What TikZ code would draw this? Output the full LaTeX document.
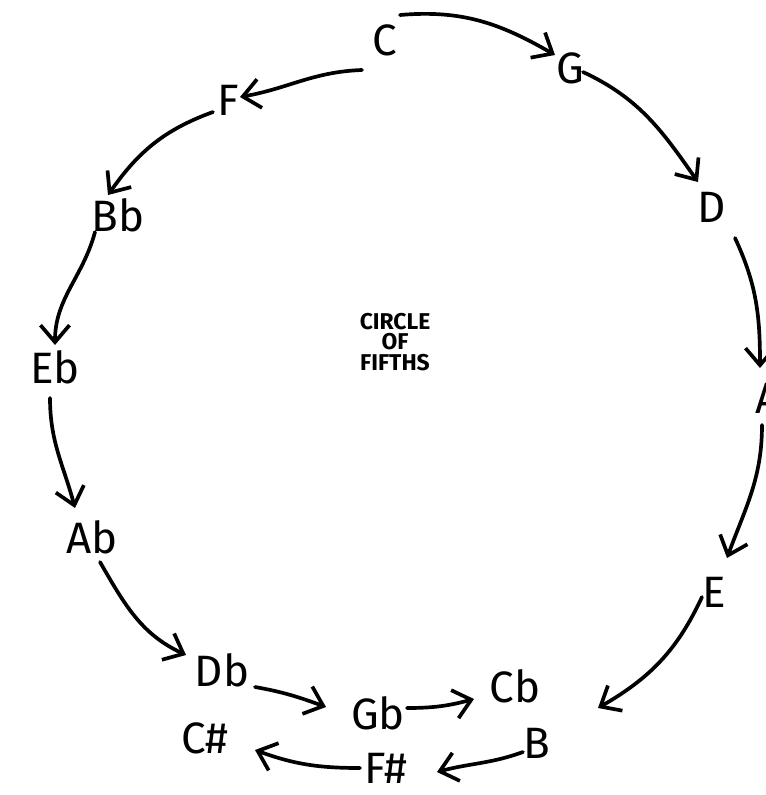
\documentclass[tikz,border=0pt]{standalone}
\usepackage{fontspec}
\setmainfont{Fira Sans}
\usetikzlibrary{arrows.meta}
\begin{document}
\begin{tikzpicture}[x=0.02cm,y=0.02cm,
  note/.style={font=\fontsize{25}{28}\selectfont, inner sep=0pt},
  arr/.style={line width=2.1pt, line cap=round, -{Straight Barb[length=3.4mm,width=5.8mm,line width=2.1pt]}}]
\useasboundingbox[fill=white] (0,0) rectangle (766,-795);
\node[note] (C)  at (385,-40) {C};
\node[note] (G)  at (570,-68) {G};
\node[note] (F)  at (228,-100) {F};
\node[note] (D)  at (712,-207) {D};
\node[note] (Bb) at (118,-215) {Bb};
\node[note] (Eb) at (55,-367) {Eb};
\node[note] (A)  at (768,-398) {A};
\node[note] (Ab) at (92,-537) {Ab};
\node[note] (E)  at (714,-592) {E};
\node[note] (Db) at (222,-670) {Db};
\node[note] (Gb) at (378,-713) {Gb};
\node[note] (Cb) at (515,-686) {Cb};
\node[note] (Cs) at (205,-738) {C\#};
\node[note] (B)  at (537,-743) {B};
\node[note] (Fs) at (386,-768) {F\#};
\node[font=\fontsize{13}{11.5}\selectfont\bfseries, align=center] (title) at (395,-342) {CIRCLE\\OF\\FIFTHS};
\draw[arr] ([shift={(15,25)}]C.center) to[out=5,in=150] ([shift={(-15,13)}]G.center);
\draw[arr] ([shift={(-23,-30)}]C.center) to[out=182,in=10] ([shift={(12,3)}]F.center);
\draw[arr] ([shift={(-15,-12)}]F.center) to[out=200,in=55] ([shift={(-10,20)}]Bb.center);
\draw[arr] ([shift={(-23,-17)}]Bb.center) to[out=255,in=90] ([shift={(0,22)}]Eb.center);
\draw[arr] ([shift={(-5,-31)}]Eb.center) to[out=-90,in=105] ([shift={(-17,29)}]Ab.center);
\draw[arr] ([shift={(8,-25)}]Ab.center) to[out=-60,in=155] ([shift={(-36,15)}]Db.center);
\draw[arr] ([shift={(33,-17)}]Db.center) to[out=-10,in=160] ([shift={(-52,6)}]Gb.center);
\draw[arr] ([shift={(29,5)}]Gb.center) to[out=0,in=195] ([shift={(-41,-13)}]Cb.center);
\draw[arr] ([shift={(13,-4)}]G.center) to[out=-25,in=125] ([shift={(-14,25)}]D.center);
\draw[arr] ([shift={(23,-31)}]D.center) to[out=-65,in=90] ([shift={(-8,30)}]A.center);
\draw[arr] ([shift={(-6,-27)}]A.center) to[out=-90,in=70] ([shift={(13,34)}]E.center);
\draw[arr] ([shift={(-12,-5)}]E.center) to[out=-115,in=30] ([shift={(61,35)}]B.center);
\draw[arr] ([shift={(-14,-9)}]B.center) to[out=200,in=15] ([shift={(51,-4)}]Fs.center);
\draw[arr] ([shift={(-26,0)}]Fs.center) to[out=180,in=-20] ([shift={(50,-12)}]Cs.center);
\end{tikzpicture}
\end{document}
